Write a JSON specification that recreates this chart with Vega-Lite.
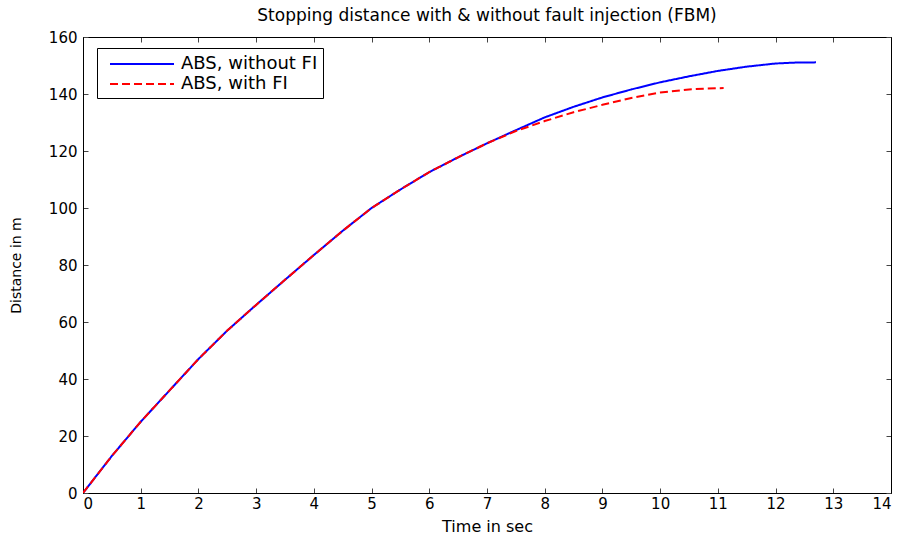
{
  "$schema": "https://vega.github.io/schema/vega-lite/v6.json",
  "autosize": {"type": "none"},
  "width": 808,
  "height": 456,
  "padding": {"left": 83, "top": 37, "right": 11, "bottom": 44},
  "background": "white",
  "title": {
    "text": "Stopping distance with & without fault injection (FBM)",
    "font": "DejaVu Sans",
    "fontSize": 17,
    "fontWeight": "normal",
    "color": "black",
    "baseline": "alphabetic",
    "offset": -8,
    "anchor": "middle"
  },
  "config": {
    "view": {"stroke": "black", "strokeWidth": 1},
    "axis": {
      "domainColor": "black",
      "tickColor": "#444444",
      "tickSize": -5,
      "grid": false,
      "labelFont": "DejaVu Sans",
      "labelFontSize": 15,
      "labelColor": "black",
      "titleFont": "DejaVu Sans",
      "titleFontWeight": "normal",
      "titleColor": "black"
    }
  },
  "data": {
    "values": [
      {"t": 0, "d": 0, "s": "ABS, without FI"},
      {"t": 0.25, "d": 6.5, "s": "ABS, without FI"},
      {"t": 0.5, "d": 13, "s": "ABS, without FI"},
      {"t": 0.75, "d": 19, "s": "ABS, without FI"},
      {"t": 1, "d": 25, "s": "ABS, without FI"},
      {"t": 1.25, "d": 30.5, "s": "ABS, without FI"},
      {"t": 1.5, "d": 36, "s": "ABS, without FI"},
      {"t": 1.75, "d": 41.5, "s": "ABS, without FI"},
      {"t": 2, "d": 47, "s": "ABS, without FI"},
      {"t": 2.5, "d": 57, "s": "ABS, without FI"},
      {"t": 3, "d": 66, "s": "ABS, without FI"},
      {"t": 3.5, "d": 74.8, "s": "ABS, without FI"},
      {"t": 4, "d": 83.5, "s": "ABS, without FI"},
      {"t": 4.5, "d": 92, "s": "ABS, without FI"},
      {"t": 5, "d": 100, "s": "ABS, without FI"},
      {"t": 5.5, "d": 106.5, "s": "ABS, without FI"},
      {"t": 6, "d": 112.6, "s": "ABS, without FI"},
      {"t": 6.5, "d": 117.8, "s": "ABS, without FI"},
      {"t": 7, "d": 122.7, "s": "ABS, without FI"},
      {"t": 7.5, "d": 127.3, "s": "ABS, without FI"},
      {"t": 8, "d": 131.8, "s": "ABS, without FI"},
      {"t": 8.5, "d": 135.5, "s": "ABS, without FI"},
      {"t": 9, "d": 138.8, "s": "ABS, without FI"},
      {"t": 9.5, "d": 141.6, "s": "ABS, without FI"},
      {"t": 10, "d": 144.1, "s": "ABS, without FI"},
      {"t": 10.5, "d": 146.2, "s": "ABS, without FI"},
      {"t": 11, "d": 148.1, "s": "ABS, without FI"},
      {"t": 11.5, "d": 149.6, "s": "ABS, without FI"},
      {"t": 12, "d": 150.7, "s": "ABS, without FI"},
      {"t": 12.3, "d": 151, "s": "ABS, without FI"},
      {"t": 12.7, "d": 151.1, "s": "ABS, without FI"},
      {"t": 0, "d": 0, "s": "ABS, with FI"},
      {"t": 0.25, "d": 6.5, "s": "ABS, with FI"},
      {"t": 0.5, "d": 13, "s": "ABS, with FI"},
      {"t": 0.75, "d": 19, "s": "ABS, with FI"},
      {"t": 1, "d": 25, "s": "ABS, with FI"},
      {"t": 1.25, "d": 30.5, "s": "ABS, with FI"},
      {"t": 1.5, "d": 36, "s": "ABS, with FI"},
      {"t": 1.75, "d": 41.5, "s": "ABS, with FI"},
      {"t": 2, "d": 47, "s": "ABS, with FI"},
      {"t": 2.5, "d": 57, "s": "ABS, with FI"},
      {"t": 3, "d": 66, "s": "ABS, with FI"},
      {"t": 3.5, "d": 74.8, "s": "ABS, with FI"},
      {"t": 4, "d": 83.5, "s": "ABS, with FI"},
      {"t": 4.5, "d": 92, "s": "ABS, with FI"},
      {"t": 5, "d": 100, "s": "ABS, with FI"},
      {"t": 5.5, "d": 106.5, "s": "ABS, with FI"},
      {"t": 6, "d": 112.6, "s": "ABS, with FI"},
      {"t": 6.5, "d": 117.8, "s": "ABS, with FI"},
      {"t": 7, "d": 122.7, "s": "ABS, with FI"},
      {"t": 7.5, "d": 127, "s": "ABS, with FI"},
      {"t": 8, "d": 130.5, "s": "ABS, with FI"},
      {"t": 8.5, "d": 133.6, "s": "ABS, with FI"},
      {"t": 9, "d": 136.2, "s": "ABS, with FI"},
      {"t": 9.5, "d": 138.6, "s": "ABS, with FI"},
      {"t": 10, "d": 140.5, "s": "ABS, with FI"},
      {"t": 10.5, "d": 141.6, "s": "ABS, with FI"},
      {"t": 10.8, "d": 141.9, "s": "ABS, with FI"},
      {"t": 11.1, "d": 142.1, "s": "ABS, with FI"}
    ]
  },
  "layer": [
    {
      "mark": {"type": "line", "strokeWidth": 2, "clip": true},
      "encoding": {
        "x": {
          "field": "t", "type": "quantitative",
          "scale": {"domain": [0, 14], "nice": false},
          "axis": {"orient": "bottom", "values": [0,1,2,3,4,5,6,7,8,9,10,11,12,13,14], "title": "Time in sec", "titleFontSize": 16, "labelPadding": 8, "titlePadding": 7}
        },
        "y": {
          "field": "d", "type": "quantitative",
          "scale": {"domain": [0, 160], "nice": false},
          "axis": {"orient": "left", "values": [0,20,40,60,80,100,120,140,160], "title": "Distance in m", "titleFontSize": 14, "labelPadding": 11, "titlePadding": 25}
        },
        "color": {
          "field": "s", "type": "nominal",
          "scale": {"domain": ["ABS, without FI", "ABS, with FI"], "range": ["#0000ff", "#ff0000"]},
          "legend": {
            "title": null, "orient": "none", "legendX": 14, "legendY": 11,
            "strokeColor": "black", "fillColor": "white", "padding": 5,
            "symbolType": "M-3.2,0H3.2", "symbolSize": 400, "symbolStrokeWidth": 2,
            "symbolOffset": 29,
            "labelFont": "DejaVu Sans", "labelFontSize": 18, "labelColor": "black",
            "labelOffset": 28, "rowPadding": 0, "labelLimit": 300
          }
        },
        "strokeDash": {
          "field": "s", "type": "nominal",
          "scale": {"domain": ["ABS, without FI", "ABS, with FI"], "range": [[1, 0], [8, 4]]},
          "legend": null
        }
      }
    },
    {
      "mark": {"type": "line", "opacity": 0},
      "encoding": {
        "x": {
          "field": "t", "type": "quantitative",
          "axis": {"orient": "top", "values": [0,1,2,3,4,5,6,7,8,9,10,11,12,13,14], "labels": false, "title": null}
        },
        "y": {
          "field": "d", "type": "quantitative",
          "axis": {"orient": "right", "values": [0,20,40,60,80,100,120,140,160], "labels": false, "title": null}
        },
        "detail": {"field": "s"}
      }
    }
  ],
  "resolve": {"axis": {"x": "independent", "y": "independent"}}
}
